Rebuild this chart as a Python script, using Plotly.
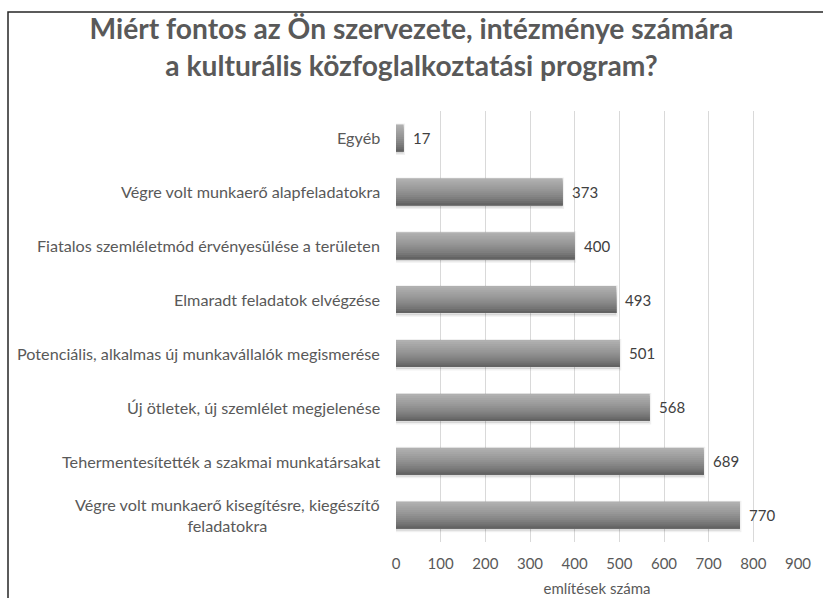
import plotly.graph_objects as go

# Data (bottom to top)
categories = [
    "Végre volt munkaerő kisegítésre, kiegészítő<br>feladatokra",
    "Tehermentesítették a szakmai munkatársakat",
    "Új ötletek, új szemlélet megjelenése",
    "Potenciális, alkalmas új munkavállalók megismerése",
    "Elmaradt feladatok elvégzése",
    "Fiatalos szemléletmód érvényesülése a területen",
    "Végre volt munkaerő alapfeladatokra",
    "Egyéb",
]
values = [770, 689, 568, 501, 493, 400, 373, 17]
x_ticks = [0, 100, 200, 300, 400, 500, 600, 700, 800, 900]

title_text = "Miért fontos az Ön szervezete, intézménye számára<br>a kulturális közfoglalkoztatási program?"
x_title = "említések száma"

FONT = "Lato"
TXT = "#595959"

fig = go.Figure()

# soft shadow
fig.add_trace(go.Bar(
    y=categories, x=values, orientation="h",
    width=0.53, offset=-0.29,
    marker=dict(color="rgba(0,0,0,0.10)", line=dict(color="rgba(0,0,0,0.06)", width=3)),
    hoverinfo="skip", showlegend=False,
))

# gradient: each layer spans from bar bottom up to a decreasing top
slice_colors = ["#b0b0b0", "#ababab", "#a6a6a6", "#a1a1a1", "#9c9c9c", "#979797",
                "#919191", "#8b8b8b", "#858585", "#7e7e7e", "#767676", "#6d6d6d", "#636363"]
n = len(slice_colors)
bw = 0.5
sw = bw / n
for i, c in enumerate(slice_colors):
    fig.add_trace(go.Bar(
        y=categories, x=values, orientation="h",
        width=bw - i * sw, offset=-bw / 2,
        marker=dict(color=c, line=dict(width=0)),
        hoverinfo="skip", showlegend=False,
    ))

# value labels
for cat, v in zip(categories, values):
    fig.add_annotation(
        x=v, xref="x", y=cat, yref="y", text=str(v), showarrow=False,
        xanchor="left", yanchor="middle", xshift=7,
        font=dict(family=FONT, size=15, color="#404040"),
    )

# category labels (centered multi-line like the original)
for cat in categories:
    fig.add_annotation(
        x=0, xref="paper", y=cat, yref="y",
        text=cat, showarrow=False, xanchor="right", yanchor="middle",
        align="center", xshift=-14,
        font=dict(family=FONT, size=16.2, color=TXT),
    )

fig.update_layout(
    width=823, height=598,
    barmode="overlay",
    plot_bgcolor="white", paper_bgcolor="white",
    margin=dict(l=396, r=25, t=111, b=56),
    title=dict(text=title_text, x=0.5, xanchor="center", y=0.935, yanchor="top",
               font=dict(family=FONT, size=28.2, color=TXT, weight="bold")),
    xaxis=dict(range=[0, 900], tickvals=x_ticks, showgrid=True, gridcolor="#d9d9d9",
               gridwidth=1, zeroline=False, showline=False, ticks="",
               ticklabelstandoff=11, automargin=False,
               tickfont=dict(family=FONT, size=15, color=TXT),
               title=dict(text=x_title, font=dict(family=FONT, size=15, color=TXT), standoff=12)),
    yaxis=dict(type="category", showticklabels=False, showgrid=False, zeroline=False,
               showline=False, ticks="", automargin=False),
    shapes=[dict(type="rect", xref="paper", yref="paper",
                 x0=(8 - 396) / 402, x1=(840 - 396) / 402,
                 y0=(542 - 620) / 431, y1=(542 - 12) / 431,
                 line=dict(color="#262626", width=1.5), fillcolor="rgba(0,0,0,0)", layer="below")],
)

fig.write_html("out.html", config={"displayModeBar": False},
               post_script="document.body.style.margin='0';")
